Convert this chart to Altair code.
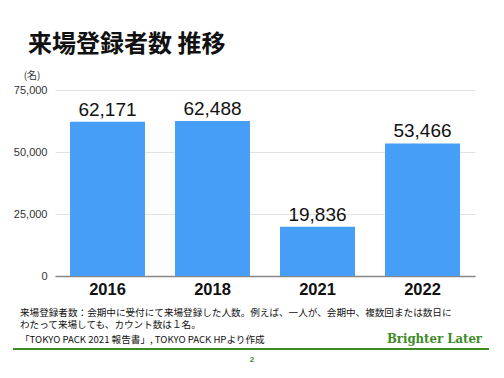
import altair as alt
import pandas as pd

years = ["2016", "2018", "2021", "2022"]
visitors = [62171, 62488, 19836, 53466]
y_ticks = [0, 25000, 50000, 75000]

title_text = "来場登録者数 推移"
unit_text = "(名)"
note_lines = [
    "来場登録者数：会期中に受付にて来場登録した人数。例えば、一人が、会期中、複数回または数日に",
    "わたって来場しても、カウント数は１名。",
    "「TOKYO PACK 2021 報告書」, TOKYO PACK HPより作成",
]
brand_text = "Brighter Later"
page_text = "2"

df = pd.DataFrame({"year": years, "value": visitors})

JP = "Noto Sans CJK JP"
NUM = "Liberation Sans"
GREEN = "#3d8b27"

x_enc = alt.X(
    "year:N",
    sort=years,
    scale=alt.Scale(paddingInner=0.286, paddingOuter=0.143),
    axis=alt.Axis(
        title=None, labelAngle=0, labelFont=NUM, labelFontSize=16.5,
        labelFontWeight="bold", labelColor="#111", ticks=False,
        labelPadding=13, labelBaseline="middle",
        domainColor="#888", domainWidth=1.5,
    ),
)
y_enc = alt.Y(
    "value:Q",
    scale=alt.Scale(domain=[0, 75000], nice=False),
    axis=alt.Axis(
        title=None, values=y_ticks, format=",.0f", labelFont=NUM, labelFontSize=11,
        labelColor="#333", ticks=False, domain=False, labelPadding=8,
        gridColor="#e2e2e2", gridWidth=1,
    ),
)

bars = alt.Chart(df).mark_bar(color="#479ef6").encode(x=x_enc, y=y_enc)
labels = alt.Chart(df).mark_text(
    baseline="bottom", dy=-2, font=NUM, fontSize=19, color="#111"
).encode(x=alt.X("year:N", sort=years), y="value:Q", text=alt.Text("value:Q", format=",.0f"))


def txt(s, x, y, size, align="left", weight="normal", color="#111", font=JP):
    return alt.Chart(alt.Data(values=[{"t": s}])).mark_text(
        align=align, baseline="middle", fontSize=size, fontWeight=weight,
        color=color, font=font,
    ).encode(x=alt.value(x), y=alt.value(y), text="t:N")


title = txt(title_text, -27, -45, 24, weight="bold")
unit = txt(unit_text, -23, -14, 10, align="center", color="#333")
notes = [txt(s, -35, yy, 9.6, color="#111") for s, yy in zip(note_lines, [222.7, 235.3, 249.5])]
brand = txt(brand_text, 427, 249, 13, align="right", weight="bold", color=GREEN,
            font="DejaVu Serif Condensed")
page = txt(page_text, 197, 270, 8, align="center", weight="bold", color=GREEN, font=NUM)
rule = alt.Chart(alt.Data(values=[{"a": 1}])).mark_rule(color=GREEN, strokeWidth=1.8).encode(
    x=alt.value(-42), x2=alt.value(434), y=alt.value(259)
)

chart = alt.layer(bars, labels, title, unit, *notes, brand, page, rule).properties(
    width=420, height=186,
    autosize=alt.AutoSizeParams(type="none"),
    padding={"left": 47, "top": 82, "right": 21, "bottom": 94},
).configure_view(stroke=None)

chart.save("out.html", embed_options={"renderer": "svg", "actions": False})
